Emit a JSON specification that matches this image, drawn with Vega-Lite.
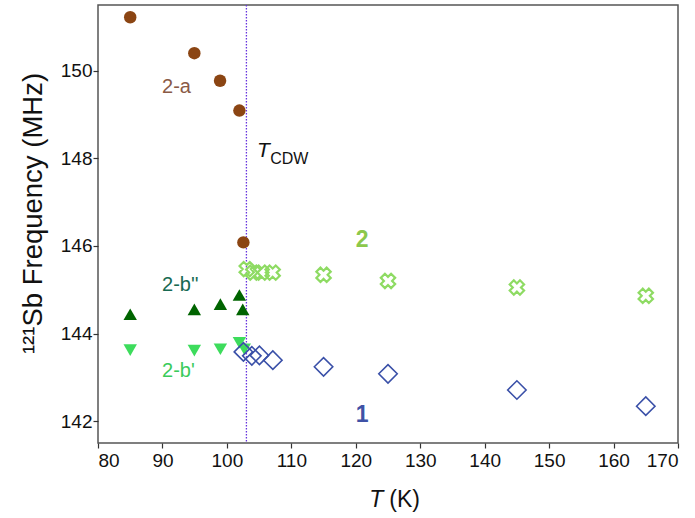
{
  "$schema": "https://vega.github.io/schema/vega-lite/v6.json",
  "width": 580,
  "height": 438,
  "autosize": {"type": "none"},
  "padding": {"left": 98, "top": 5, "right": 17, "bottom": 75},
  "background": "white",
  "config": {
    "view": {"stroke": "#555", "strokeWidth": 1.5},
    "font": "Liberation Sans",
    "axis": {
      "domain": false, "grid": false, "ticks": true, "tickColor": "#333", "tickSize": 5, "tickWidth": 1.2, "zindex": 1,
      "labelFont": "Liberation Sans", "labelFontSize": 19, "labelColor": "#111",
      "titleFont": "Liberation Sans", "titleFontSize": 27.5, "titleFontWeight": "normal", "titleColor": "#111"
    }
  },
  "datasets": {
    "pts": [
      {"T": 85.0, "f": 151.22, "s": "2-a"},
      {"T": 94.95, "f": 150.40, "s": "2-a"},
      {"T": 98.94, "f": 149.77, "s": "2-a"},
      {"T": 101.94, "f": 149.09, "s": "2-a"},
      {"T": 102.56, "f": 146.08, "s": "2-a"},
      {"T": 85.0, "f": 144.44, "s": "2-b''"},
      {"T": 94.95, "f": 144.55, "s": "2-b''"},
      {"T": 98.99, "f": 144.67, "s": "2-b''"},
      {"T": 101.94, "f": 144.88, "s": "2-b''"},
      {"T": 102.46, "f": 144.55, "s": "2-b''"},
      {"T": 85.0, "f": 143.62, "s": "2-b'"},
      {"T": 94.95, "f": 143.61, "s": "2-b'"},
      {"T": 98.99, "f": 143.64, "s": "2-b'"},
      {"T": 101.94, "f": 143.79, "s": "2-b'"},
      {"T": 102.7, "f": 143.64, "s": "2-b'"},
      {"T": 103.08, "f": 145.47, "s": "2"},
      {"T": 104.1, "f": 145.39, "s": "2"},
      {"T": 105.4, "f": 145.39, "s": "2"},
      {"T": 107.1, "f": 145.39, "s": "2"},
      {"T": 115.0, "f": 145.34, "s": "2"},
      {"T": 125.0, "f": 145.2, "s": "2"},
      {"T": 145.0, "f": 145.05, "s": "2"},
      {"T": 165.0, "f": 144.86, "s": "2"},
      {"T": 102.57, "f": 143.58, "s": "1"},
      {"T": 103.87, "f": 143.49, "s": "1"},
      {"T": 105.05, "f": 143.5, "s": "1"},
      {"T": 107.13, "f": 143.39, "s": "1"},
      {"T": 115.0, "f": 143.24, "s": "1"},
      {"T": 125.0, "f": 143.08, "s": "1"},
      {"T": 145.0, "f": 142.71, "s": "1"},
      {"T": 165.0, "f": 142.34, "s": "1"}
    ]
  },
  "encoding": {
    "x": {"field": "T", "type": "quantitative", "scale": {"domain": [80, 170], "nice": false, "zero": false},
      "axis": {"values": [80, 90, 100, 110, 120, 130, 140, 150, 160, 170], "title": null, "labelPadding": 3}},
    "y": {"field": "f", "type": "quantitative", "scale": {"domain": [141.5, 151.5], "nice": false, "zero": false},
      "axis": {"values": [142, 144, 146, 148, 150], "title": "¹²¹Sb Frequency (MHz)", "labelPadding": 1, "titlePadding": 13, "titleY": 208}}
  },
  "layer": [
    {"data": {"values": [{"T": 103.03}]}, "mark": {"type": "rule", "color": "#6633dd", "strokeDash": [1.5, 1.5], "strokeWidth": 1.3},
      "encoding": {"x": {"field": "T", "type": "quantitative"}, "y": null}},
    {"data": {"name": "pts"}, "transform": [{"filter": "datum.s === '2-a'"}],
      "mark": {"type": "point", "shape": "circle", "filled": true, "color": "#8B4513", "opacity": 1, "size": 155}},
    {"data": {"name": "pts"}, "transform": [{"filter": "datum.s === \"2-b''\""}],
      "mark": {"type": "point", "shape": "triangle-up", "filled": true, "color": "#006400", "opacity": 1, "size": 180}},
    {"data": {"name": "pts"}, "transform": [{"filter": "datum.s === \"2-b'\""}],
      "mark": {"type": "point", "shape": "triangle-down", "filled": true, "color": "#3ddc5c", "opacity": 1, "size": 180}},
    {"data": {"name": "pts"}, "transform": [{"filter": "datum.s === '2'"}],
      "mark": {"type": "point", "shape": "cross", "angle": 45, "filled": false, "color": "#8edb63", "strokeWidth": 2.2, "opacity": 1, "size": 210}},
    {"data": {"name": "pts"}, "transform": [{"filter": "datum.s === '1'"}],
      "mark": {"type": "point", "shape": "diamond", "filled": false, "fill": "white", "fillOpacity": 0, "color": "#3a50a8", "strokeWidth": 1.6, "opacity": 1, "size": 340}},
    {"data": {"values": [{"T": 89.94, "f": 149.5, "label": "2-a"}]},
      "mark": {"type": "text", "align": "left", "baseline": "alphabetic", "fontSize": 20, "color": "#8a5a46"},
      "encoding": {"text": {"field": "label"}}},
    {"data": {"values": [{"T": 89.94, "f": 144.98, "label": "2-b''"}]},
      "mark": {"type": "text", "align": "left", "baseline": "alphabetic", "fontSize": 20, "color": "#176a52"},
      "encoding": {"text": {"field": "label"}}},
    {"data": {"values": [{"T": 89.94, "f": 143.0, "label": "2-b'"}]},
      "mark": {"type": "text", "align": "left", "baseline": "alphabetic", "fontSize": 20, "color": "#3acb5b"},
      "encoding": {"text": {"field": "label"}}},
    {"data": {"values": [{"T": 121.0, "f": 145.98, "label": "2"}]},
      "mark": {"type": "text", "align": "center", "baseline": "alphabetic", "fontSize": 23, "fontWeight": "bold", "color": "#8cc84b"},
      "encoding": {"text": {"field": "label"}}},
    {"data": {"values": [{"T": 121.0, "f": 141.97, "label": "1"}]},
      "mark": {"type": "text", "align": "center", "baseline": "alphabetic", "fontSize": 23, "fontWeight": "bold", "color": "#3f52a6"},
      "encoding": {"text": {"field": "label"}}},
    {"data": {"values": [{"T": 104.69, "f": 148.03, "label": "T"}]},
      "mark": {"type": "text", "align": "left", "baseline": "alphabetic", "fontSize": 21, "fontStyle": "italic", "color": "#111"},
      "encoding": {"text": {"field": "label"}}},
    {"data": {"values": [{"T": 106.71, "f": 147.87, "label": "CDW"}]},
      "mark": {"type": "text", "align": "left", "baseline": "alphabetic", "fontSize": 16, "color": "#111"},
      "encoding": {"text": {"field": "label"}}},
    {"data": {"values": [{"T": 123.2, "f": 140.04, "label": "T"}]},
      "mark": {"type": "text", "align": "center", "baseline": "alphabetic", "fontSize": 23, "fontStyle": "italic", "color": "#111", "clip": false},
      "encoding": {"text": {"field": "label"}}},
    {"data": {"values": [{"T": 125.2, "f": 140.04, "label": "(K)"}]},
      "mark": {"type": "text", "align": "left", "baseline": "alphabetic", "fontSize": 23, "color": "#111", "clip": false},
      "encoding": {"text": {"field": "label"}}}
  ]
}
